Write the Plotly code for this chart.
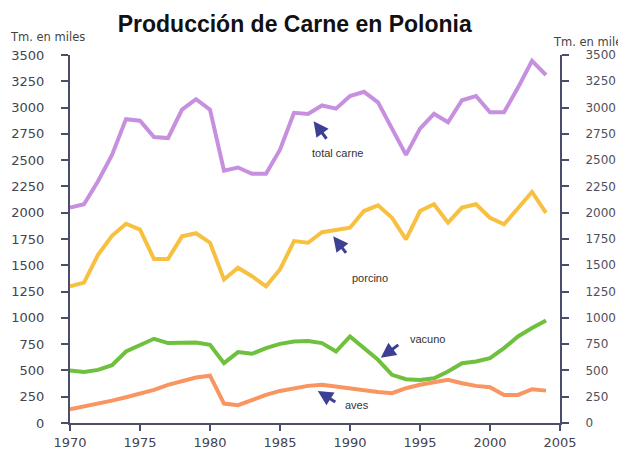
import plotly.graph_objects as go

years = list(range(1970, 2005))
total_carne = [2050, 2080, 2300, 2550, 2890, 2875, 2720, 2710, 2980, 3080, 2980, 2400, 2430, 2370, 2370,
               2600, 2950, 2940, 3020, 2990, 3110, 3150, 3050, 2800, 2550, 2800, 2940, 2860, 3070, 3110,
               2955, 2955, 3190, 3445, 3310]
porcino = [1300, 1335, 1600, 1780, 1895, 1840, 1560, 1560, 1775, 1805, 1715, 1365, 1476, 1396, 1300,
           1460, 1730, 1714, 1814, 1838, 1857, 2016, 2070, 1952, 1746, 2016, 2080, 1905, 2048, 2080,
           1952, 1889, 2048, 2197, 1998]
vacuno = [500, 485, 505, 550, 680, 744, 801, 760, 765, 766, 744, 569, 674, 658, 712,
          753, 776, 780, 760, 680, 823, 712, 601, 458, 417, 410, 426, 490, 569, 585,
          617, 712, 823, 903, 976]
aves = [130, 156, 181, 213, 245, 277, 315, 363, 401, 432, 450, 185, 170, 219, 267,
        305, 331, 353, 363, 345, 330, 312, 295, 283, 331, 363, 385, 410, 378, 353,
        340, 267, 267, 321, 308]

series_names = ["total carne", "porcino", "vacuno", "aves"]
series_values = [total_carne, porcino, vacuno, aves]
series_colors = ["#c690df", "#f8c040", "#6ec03e", "#f89560"]

y_ticks = list(range(0, 3501, 250))
x_ticks = list(range(1970, 2006, 5))

fig = go.Figure()
for name, vals, col in zip(series_names, series_values, series_colors):
    fig.add_trace(go.Scatter(x=years, y=vals, mode="lines", name=name,
                             line=dict(color=col, width=4), showlegend=False))
# invisible trace to activate right axis
fig.add_trace(go.Scatter(x=[years[0]], y=[0], yaxis="y2", mode="markers",
                         marker=dict(opacity=0), showlegend=False, hoverinfo="skip"))

axis_col = "#4a4e6a"
tick_font = dict(family="DejaVu Sans, Verdana, sans-serif", size=13, color="#44444f")
tick_font_r = dict(family="DejaVu Sans, Verdana, sans-serif", size=12, color="#50505a")

fig.update_layout(
    width=626, height=454,
    margin=dict(l=62, r=74, t=47, b=39),
    paper_bgcolor="white", plot_bgcolor="white",
    title=dict(text="<b>Producción de Carne en Polonia</b>", x=0.458, xanchor="center",
               y=0.965, yanchor="middle",
               font=dict(family="Liberation Sans, Arial, sans-serif", size=23, color="#111111")),
    xaxis=dict(range=[1970, 2005], tickvals=x_ticks, showgrid=False, zeroline=False,
               showline=True, linecolor=axis_col, linewidth=2, ticks="outside",
               ticklen=6, tickwidth=2, tickcolor=axis_col, tickfont=tick_font,
               automargin=False),
    yaxis=dict(range=[0, 3500], tickvals=y_ticks, showgrid=False, zeroline=False,
               showline=True, linecolor=axis_col, linewidth=2, ticks="outside",
               ticklen=7, tickwidth=2, tickcolor=axis_col, tickfont=tick_font,
               ticklabelstandoff=14, automargin=False),
    yaxis2=dict(range=[0, 3500], tickvals=y_ticks, overlaying="y", side="right",
                showgrid=False, zeroline=False, showline=True, linecolor=axis_col,
                linewidth=2, ticks="outside", ticklen=7, tickwidth=2, tickcolor=axis_col,
                tickfont=tick_font_r, ticklabelstandoff=14, automargin=False),
)

small = dict(family="Liberation Sans, Arial, sans-serif", size=11, color="#333333")
label_font = dict(family="DejaVu Sans, Verdana, sans-serif", size=11.5, color="#444444")
arrow_col = "#3d3f95"
annotations = [
    dict(x=-0.045, y=1.049, xref="paper", yref="paper", text="Tm. en miles", showarrow=False,
         xanchor="center", yanchor="middle", font=label_font),
    dict(x=0.982, y=1.035, xref="paper", yref="paper", text="Tm. en miles", showarrow=False,
         xanchor="left", yanchor="middle", font=label_font),
    dict(x=1989.1, y=2570, text="total carne", showarrow=False, font=small),
    dict(x=1991.4, y=1383, text="porcino", showarrow=False, font=small),
    dict(x=1995.5, y=801, text="vacuno", showarrow=False, font=small),
    dict(x=1990.5, y=172, text="aves", showarrow=False, font=small),
    dict(x=1987.4, y=2870, ax=14, ay=19, showarrow=True, arrowhead=2, arrowsize=1,
         arrowwidth=3, arrowcolor=arrow_col, text=""),
    dict(x=1988.8, y=1775, ax=14, ay=18, showarrow=True, arrowhead=2, arrowsize=1,
         arrowwidth=3, arrowcolor=arrow_col, text=""),
    dict(x=1992.2, y=620, ax=19, ay=-14, showarrow=True, arrowhead=2, arrowsize=1,
         arrowwidth=3, arrowcolor=arrow_col, text=""),
    dict(x=1987.7, y=305, ax=19, ay=12, showarrow=True, arrowhead=2, arrowsize=1,
         arrowwidth=3, arrowcolor=arrow_col, text=""),
]
fig.update_layout(annotations=annotations)

fig.write_html("out.html")
